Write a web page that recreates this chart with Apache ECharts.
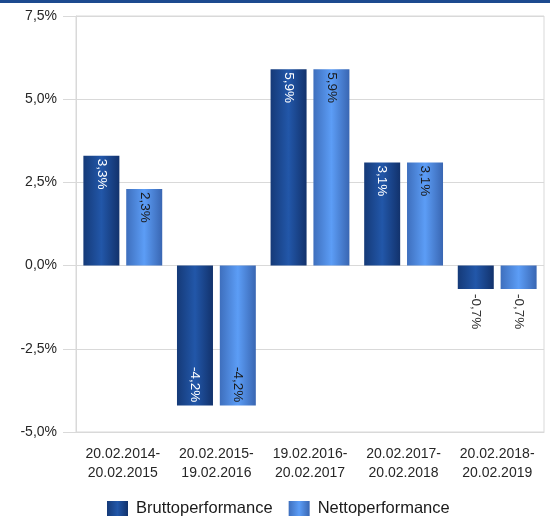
<!DOCTYPE html>
<html>
<head>
<meta charset="utf-8">
<script src="https://cdn.jsdelivr.net/npm/echarts@6/dist/echarts.min.js"></script>
<style>
  html, body { margin: 0; padding: 0; background: #fff; }
  #chart { width: 550px; height: 518px; }
</style>
</head>
<body>
<div id="chart"></div>
<script>
  // Zeiträume und Werte (in %)
  var periods = ['20.02.2014-\n20.02.2015', '20.02.2015-\n19.02.2016', '19.02.2016-\n20.02.2017', '20.02.2017-\n20.02.2018', '20.02.2018-\n20.02.2019'];
  var brutto = [3.3, -4.2, 5.9, 3.1, -0.7];
  var netto = [2.3, -4.2, 5.9, 3.1, -0.7];
  var seriesNames = ['Bruttoperformance', 'Nettoperformance'];

  var fontName = 'Liberation Sans';

  function fmt(v) {
    return v.toFixed(1).replace('.', ',') + '%';
  }

  // label inside bar end, or outside if the bar is too short
  function makeData(values, insideColor) {
    return values.map(function (v) {
      var inside = Math.abs(v) >= 1;
      var pos;
      if (inside) pos = v >= 0 ? 'insideTop' : 'insideBottom';
      else pos = v >= 0 ? 'top' : 'bottom';
      return {
        value: v,
        label: {
          position: pos,
          distance: inside ? 3 : 5,
          align: (inside === (v >= 0)) ? 'left' : 'right',
          color: inside ? insideColor : '#333'
        }
      };
    });
  }

  function grad(edge, mid, edge2) {
    return new echarts.graphic.LinearGradient(0, 0, 1, 0, [
      { offset: 0, color: edge },
      { offset: 0.5, color: mid },
      { offset: 1, color: edge2 }
    ]);
  }

  var chart = echarts.init(document.getElementById('chart'));
  chart.setOption({
    animation: false,
    textStyle: { fontFamily: fontName },
    graphic: [{
      type: 'rect',
      left: 0,
      top: 0,
      shape: { width: 550, height: 3 },
      style: { fill: '#1d4a8f' }
    }],
    grid: {
      left: 76,
      right: 6,
      top: 16,
      bottom: 86,
      show: true,
      borderColor: '#d9d9d9',
      borderWidth: 1
    },
    legend: {
      data: seriesNames,
      icon: 'rect',
      left: 102,
      top: 495,
      itemWidth: 21,
      itemHeight: 15,
      itemGap: 16,
      textStyle: { fontSize: 16.5, color: '#1a1a1a', fontFamily: fontName, padding: [0, 0, 0, 3] }
    },
    xAxis: {
      type: 'category',
      data: periods,
      axisLine: { onZero: false, lineStyle: { color: '#d9d9d9' } },
      axisTick: { length: 6, lineStyle: { color: '#d9d9d9' } },
      axisLabel: {
        interval: 0,
        fontSize: 14,
        lineHeight: 19,
        margin: 13,
        color: '#262626'
      }
    },
    yAxis: {
      type: 'value',
      min: -5,
      max: 7.5,
      interval: 2.5,
      axisLine: { show: true, lineStyle: { color: '#d9d9d9' } },
      axisTick: { show: true, length: 13, lineStyle: { color: '#d9d9d9' } },
      splitLine: { lineStyle: { color: '#d9d9d9' } },
      axisLabel: {
        fontSize: 14,
        margin: 19,
        color: '#262626',
        formatter: function (v) { return fmt(v); }
      }
    },
    series: [{
      name: seriesNames[0],
      type: 'bar',
      barWidth: 36,
      barGap: '19%',
      data: makeData(brutto, '#fff'),
      itemStyle: { color: grad('#153a78', '#2257a9', '#12326c') },
      label: {
        show: true,
        rotate: -90,
        verticalAlign: 'middle',
        fontSize: 13.5,
        fontFamily: fontName,
        formatter: function (p) { return fmt(p.value); }
      }
    }, {
      name: seriesNames[1],
      type: 'bar',
      barWidth: 36,
      data: makeData(netto, '#1a1a1a'),
      itemStyle: { color: grad('#3e6fbd', '#5c9df6', '#3966b2') },
      label: {
        show: true,
        rotate: -90,
        verticalAlign: 'middle',
        fontSize: 13.5,
        fontFamily: fontName,
        formatter: function (p) { return fmt(p.value); }
      }
    }]
  });
</script>
</body>
</html>
